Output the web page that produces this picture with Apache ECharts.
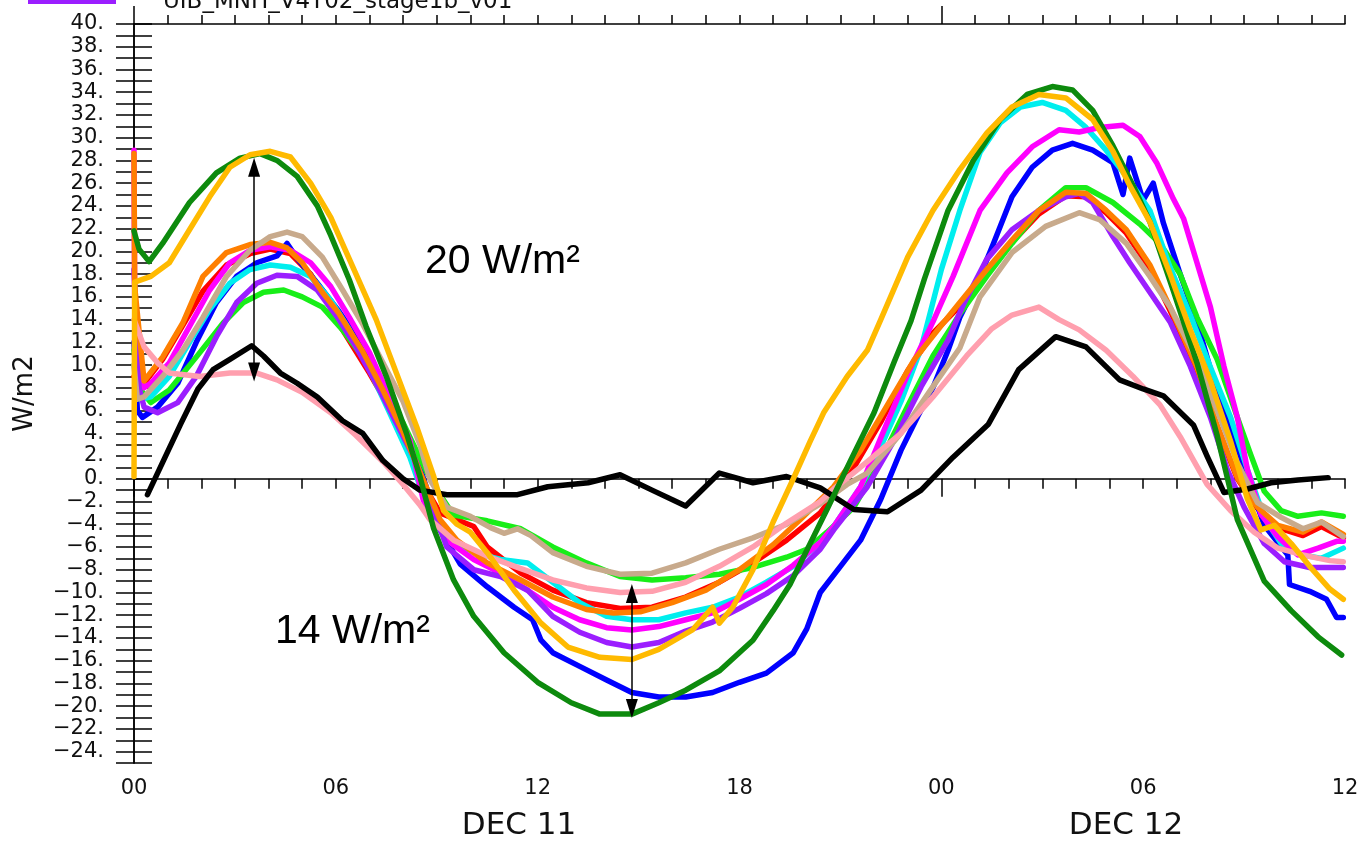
<!DOCTYPE html>
<html>
<head>
<meta charset="utf-8">
<script src="https://cdn.jsdelivr.net/npm/echarts@6/dist/echarts.min.js"></script>
<style>
  html, body { margin: 0; padding: 0; background: #fff; }
  #chart { width: 1365px; height: 844px; }
</style>
</head>
<body>
<div id="chart"></div>
<script>
// Net surface flux, W/m2, hours from 00 UTC DEC 11 (0..36)
const hourTicks = [0, 6, 12, 18, 24, 30, 36];
const hourLabels = ['00', '06', '12', '18', '00', '06', '12'];
const dayLabels = ['DEC 11', 'DEC 12'];
const legendName = 'UIB_MNH_V4T02_stage1b_v01';

const obsBlack = [[0.4,-1.4],[1.4,4.9],[1.9,7.9],[2.35,9.6],[2.85,10.5],[3.5,11.7],[3.85,10.8],[4.35,9.3],[4.85,8.4],[5.45,7.2],[6.2,5.1],[6.8,4.0],[7.4,1.6],[8.0,0.0],[8.5,-1.0],[9.3,-1.4],[11.4,-1.4],[12.3,-0.7],[13.5,-0.35],[14.45,0.35],[15.4,-1.0],[16.4,-2.4],[17.4,0.5],[18.4,-0.35],[19.4,0.2],[20.4,-0.8],[21.4,-2.7],[22.4,-2.9],[23.4,-1.0],[24.35,1.9],[25.4,4.8],[26.3,9.6],[27.4,12.5],[28.3,11.6],[29.3,8.7],[30.0,7.9],[30.6,7.3],[31.5,4.7],[31.9,2.0],[32.4,-1.2],[33.1,-0.9],[33.8,-0.35],[34.6,-0.1],[35.5,0.1]];

const runRed = [[0,9.0],[0.3,8.4],[0.85,10.5],[1.45,13.5],[2.05,16.5],[2.75,18.8],[3.45,19.8],[4.05,20.2],[4.65,19.8],[5.25,18.0],[5.85,15.0],[6.2,13.1],[7.0,9.3],[7.8,5.2],[8.4,0.5],[9.1,-3.0],[9.6,-3.6],[10.1,-4.2],[10.5,-6.0],[11.5,-8.3],[12.45,-9.8],[13.45,-10.9],[14.45,-11.4],[15.4,-11.3],[16.4,-10.4],[17.4,-9.1],[18.4,-7.4],[19.4,-5.4],[20.4,-3.0],[21.3,0.5],[22.2,5.0],[23.0,9.5],[23.75,12.8],[24.55,15.2],[25.35,18.2],[26.1,20.8],[26.9,23.3],[27.7,24.9],[28.3,24.8],[28.9,23.4],[29.5,21.6],[30.2,18.5],[30.8,14.8],[31.6,9.6],[32.2,4.5],[32.8,0.0],[33.4,-2.6],[34.0,-4.3],[34.75,-5.0],[35.3,-4.2],[35.95,-5.2]];

const runBlue = [[0,12.0],[0.1,6.0],[0.25,5.4],[0.7,6.3],[1.3,8.4],[1.85,12.0],[2.45,15.5],[3.05,17.8],[3.65,19.0],[4.25,19.6],[4.55,20.7],[4.85,19.4],[5.45,17.2],[6.05,14.9],[6.6,12.5],[7.2,9.3],[7.8,5.8],[8.4,1.9],[9.1,-4.5],[9.7,-7.5],[10.5,-9.5],[11.3,-11.3],[11.85,-12.4],[12.1,-14.2],[12.45,-15.3],[13.25,-16.5],[14.05,-17.7],[14.8,-18.8],[15.6,-19.2],[16.4,-19.2],[17.2,-18.8],[18.0,-17.9],[18.8,-17.1],[19.6,-15.3],[20.0,-13.2],[20.4,-10.0],[21.0,-7.7],[21.6,-5.4],[22.2,-1.8],[22.8,2.5],[23.3,5.5],[23.75,8.0],[24.2,11.3],[24.55,14.2],[25.15,17.8],[25.55,20.7],[26.1,24.8],[26.7,27.4],[27.3,28.9],[27.9,29.5],[28.5,28.9],[29.1,27.8],[29.4,25.0],[29.6,28.2],[30.0,24.5],[30.3,26.0],[30.6,22.5],[31.1,18.0],[31.6,13.8],[32.1,8.6],[32.6,4.0],[33.1,0.1],[33.6,-4.1],[34.3,-6.7],[34.35,-9.3],[34.95,-9.9],[35.45,-10.6],[35.75,-12.2],[35.95,-12.2]];

const runLime = [[0,11.3],[0.15,8.0],[0.5,6.7],[1.05,7.8],[1.85,10.7],[2.65,13.7],[3.25,15.5],[3.85,16.4],[4.45,16.6],[5.0,16.0],[5.6,15.1],[6.2,13.1],[6.8,10.7],[7.4,7.8],[8.0,4.9],[8.7,0.6],[9.1,-1.4],[9.5,-3.2],[10.5,-3.7],[11.5,-4.4],[12.45,-6.0],[13.45,-7.4],[14.45,-8.6],[15.4,-8.9],[16.4,-8.7],[17.4,-8.4],[18.4,-7.8],[19.4,-6.9],[20.0,-6.2],[20.6,-4.7],[21.4,-2.5],[22.2,1.6],[23.0,6.4],[23.75,10.8],[24.55,14.5],[25.35,17.8],[26.1,20.7],[26.9,23.6],[27.7,25.6],[28.3,25.6],[29.1,24.3],[29.9,22.4],[30.5,20.7],[31.1,18.0],[31.6,14.2],[32.2,10.5],[32.8,5.4],[33.2,2.1],[33.6,-1.1],[34.1,-2.8],[34.6,-3.3],[35.3,-3.0],[35.95,-3.3]];

const runCyan = [[0,10.0],[0.2,7.0],[0.5,7.2],[1.05,9.0],[1.65,12.0],[2.25,14.9],[2.85,17.2],[3.45,18.4],[4.05,18.8],[4.65,18.6],[5.25,17.8],[5.85,15.7],[6.4,13.1],[7.0,9.6],[7.6,5.8],[8.2,1.9],[8.6,-1.5],[9.3,-5.1],[10.1,-6.5],[10.9,-7.1],[11.7,-7.4],[12.45,-9.1],[13.25,-10.9],[14.05,-12.1],[14.8,-12.4],[15.6,-12.4],[16.4,-11.8],[17.2,-11.3],[18.0,-10.4],[18.8,-9.1],[19.6,-7.7],[20.4,-5.6],[20.8,-4.2],[21.6,-0.7],[22.2,2.8],[22.8,6.8],[23.4,11.5],[24.0,18.4],[24.55,23.6],[25.15,28.7],[25.75,31.3],[26.35,32.7],[27.0,33.1],[27.7,32.4],[28.3,30.9],[28.9,28.9],[29.5,26.6],[30.2,23.6],[30.8,18.6],[31.4,14.4],[32.0,9.8],[32.6,5.4],[33.1,0.8],[33.6,-3.4],[34.1,-5.7],[34.75,-6.7],[35.3,-7.0],[35.95,-6.1]];

const runMagenta = [[0,28.9],[0.02,15.0],[0.1,12.8],[0.3,8.0],[0.5,8.4],[1.05,10.2],[1.65,13.4],[2.25,16.6],[2.85,19.0],[3.45,20.1],[4.05,20.4],[4.65,20.1],[5.25,19.0],[5.85,16.9],[6.4,14.2],[7.0,11.1],[7.6,7.2],[8.2,3.4],[8.6,-1.9],[9.3,-5.4],[10.1,-7.1],[10.9,-8.3],[11.7,-9.8],[12.45,-11.3],[13.25,-12.4],[14.05,-13.1],[14.8,-13.3],[15.6,-13.0],[16.4,-12.4],[17.2,-11.8],[18.0,-10.6],[18.8,-9.3],[19.6,-7.6],[20.4,-5.6],[20.8,-4.2],[21.6,-0.7],[22.2,3.6],[23.0,9.2],[23.75,13.8],[24.35,17.8],[25.15,23.6],[25.95,26.9],[26.7,29.2],[27.5,30.7],[28.1,30.5],[28.7,30.9],[29.4,31.1],[29.9,30.1],[30.4,27.8],[30.9,24.6],[31.2,22.9],[31.6,19.0],[32.0,15.1],[32.4,9.9],[32.8,5.4],[33.1,0.8],[33.5,-3.1],[34.0,-5.1],[34.6,-6.7],[35.2,-6.1],[35.75,-5.5],[35.95,-5.5]];

const runPurple = [[0,18.4],[0.05,15.0],[0.15,8.0],[0.3,6.3],[0.7,5.8],[1.3,6.7],[1.85,9.0],[2.45,12.5],[3.05,15.5],[3.65,17.2],[4.25,17.9],[4.85,17.8],[5.45,16.6],[6.05,14.2],[6.6,11.6],[7.2,8.4],[7.8,4.9],[8.4,1.4],[8.8,-2.0],[9.3,-6.0],[10.1,-8.0],[10.9,-8.6],[11.7,-9.8],[12.45,-12.1],[13.25,-13.5],[14.05,-14.4],[14.8,-14.8],[15.6,-14.4],[16.4,-13.4],[17.2,-12.6],[18.0,-11.4],[18.8,-10.1],[19.6,-8.5],[20.4,-6.2],[20.8,-4.5],[21.8,-0.7],[22.6,3.4],[23.4,8.1],[24.2,12.2],[24.65,15.3],[25.35,19.3],[26.1,21.9],[26.9,23.6],[27.7,24.8],[28.1,25.1],[28.5,24.3],[29.1,21.3],[29.6,19.0],[30.2,16.4],[30.8,13.8],[31.4,9.9],[32.0,5.4],[32.5,0.8],[33.0,-2.5],[33.6,-5.7],[34.2,-7.3],[34.95,-7.8],[35.95,-7.8]];

const runOrange = [[0,28.6],[0.02,16.9],[0.3,8.6],[0.85,10.7],[1.45,13.7],[2.05,17.8],[2.75,19.9],[3.45,20.6],[4.05,20.8],[4.55,20.3],[5.0,19.0],[5.6,16.4],[6.1,14.5],[6.8,11.2],[7.4,7.8],[8.0,4.1],[8.6,-0.1],[9.1,-3.6],[9.6,-5.4],[10.5,-7.4],[11.5,-8.9],[12.45,-10.4],[13.45,-11.5],[14.25,-11.8],[15.05,-11.7],[16.0,-10.9],[17.0,-9.8],[18.0,-8.0],[19.0,-5.8],[19.8,-3.6],[20.8,-0.7],[21.6,2.5],[22.4,6.5],[23.2,10.5],[23.95,13.3],[24.55,15.5],[25.35,18.4],[26.1,21.0],[26.9,23.6],[27.7,25.2],[28.3,25.1],[28.9,23.6],[29.5,21.9],[30.2,18.8],[30.8,15.1],[31.6,9.8],[32.2,4.7],[32.8,0.1],[33.4,-2.5],[34.0,-4.1],[34.75,-4.7],[35.3,-3.8],[35.95,-4.9]];

const runTan = [[0,10.0],[0.1,7.0],[0.3,7.2],[0.85,9.0],[1.45,11.3],[2.05,14.2],[2.75,17.8],[3.45,20.1],[4.05,21.3],[4.55,21.7],[5.0,21.3],[5.6,19.5],[6.2,16.6],[6.8,13.6],[7.4,10.2],[8.0,6.8],[8.5,3.0],[8.8,-0.1],[9.3,-2.5],[10.0,-3.3],[10.6,-4.3],[11.0,-4.8],[11.4,-4.4],[11.8,-5.0],[12.45,-6.5],[13.45,-7.7],[14.45,-8.4],[15.4,-8.3],[16.4,-7.4],[17.4,-6.2],[18.4,-5.2],[19.4,-4.0],[20.4,-2.2],[21.2,-0.5],[21.8,0.5],[22.8,4.0],[23.75,8.1],[24.55,11.5],[25.15,16.0],[26.1,19.9],[27.1,22.2],[28.1,23.4],[28.7,22.8],[29.5,20.7],[30.2,17.8],[30.8,15.1],[31.6,10.5],[32.2,6.0],[32.8,1.4],[33.4,-2.1],[34.1,-3.4],[34.75,-4.4],[35.3,-3.8],[35.95,-5.1]];

const runPink = [[0,14.0],[0.3,11.6],[0.7,10.2],[1.05,9.3],[1.95,9.0],[2.85,9.3],[3.65,9.3],[4.25,8.7],[5.0,7.6],[5.85,5.8],[6.6,3.8],[7.4,1.5],[8.0,-0.5],[8.5,-2.3],[8.8,-3.6],[9.5,-5.4],[10.5,-6.8],[11.5,-7.9],[12.45,-8.9],[13.45,-9.6],[14.45,-10.0],[15.4,-9.9],[16.4,-9.1],[17.4,-7.7],[18.4,-6.0],[19.4,-3.9],[20.4,-2.0],[20.8,-0.9],[21.8,1.5],[22.8,4.0],[23.75,7.2],[24.75,10.8],[25.5,13.2],[26.1,14.4],[26.9,15.1],[27.5,14.0],[28.1,13.1],[28.9,11.3],[29.7,9.0],[30.5,6.5],[31.1,3.7],[31.9,-0.5],[32.6,-2.8],[33.3,-4.7],[34.0,-6.1],[34.75,-6.7],[35.55,-7.2],[35.95,-7.3]];

const runDarkGreen = [[0,21.8],[0.15,20.2],[0.45,19.1],[0.85,20.7],[1.65,24.3],[2.45,26.9],[3.15,28.2],[3.75,28.6],[4.25,28.0],[4.85,26.6],[5.45,24.0],[5.85,21.4],[6.4,17.5],[6.9,13.4],[7.5,9.0],[8.1,4.0],[8.5,0.2],[8.9,-4.3],[9.5,-8.9],[10.1,-12.1],[11.0,-15.3],[12.0,-17.9],[13.0,-19.7],[13.85,-20.7],[14.8,-20.7],[15.6,-19.7],[16.4,-18.6],[17.4,-16.9],[18.4,-14.2],[19.0,-11.6],[19.5,-9.3],[20.0,-6.3],[20.6,-2.7],[21.3,1.6],[22.0,5.8],[22.6,10.3],[23.1,13.9],[23.5,17.6],[24.2,23.6],[24.95,28.0],[25.75,31.6],[26.55,33.8],[27.3,34.5],[27.9,34.2],[28.5,32.4],[29.1,29.3],[29.7,25.8],[30.2,22.6],[30.9,16.5],[31.6,10.2],[32.2,3.8],[32.8,-3.6],[33.6,-9.0],[34.4,-11.6],[35.2,-13.9],[35.9,-15.5]];

const runAmber = [[0,0.2],[0.02,17.3],[0.5,17.8],[1.05,19.0],[1.65,21.9],[2.25,24.8],[2.85,27.4],[3.45,28.5],[4.05,28.8],[4.65,28.3],[5.25,26.0],[5.85,23.0],[6.6,18.0],[7.2,14.0],[7.8,9.3],[8.4,4.6],[8.9,0.3],[9.2,-2.8],[9.6,-4.0],[10.0,-4.7],[10.5,-6.5],[11.3,-9.8],[12.1,-12.7],[12.9,-14.8],[13.85,-15.7],[14.8,-15.9],[15.6,-15.0],[16.6,-13.3],[17.2,-11.3],[17.4,-12.7],[17.8,-11.3],[18.4,-8.0],[19.0,-3.8],[19.6,0.0],[20.1,3.3],[20.5,5.8],[21.2,9.0],[21.8,11.3],[22.2,14.0],[23.0,19.5],[23.75,23.6],[24.55,27.2],[25.35,30.4],[26.1,32.7],[26.9,33.8],[27.7,33.5],[28.5,31.6],[29.1,28.8],[29.6,25.8],[30.2,22.6],[30.8,18.0],[31.4,13.1],[32.0,8.6],[32.6,3.3],[33.1,-1.8],[33.5,-4.5],[33.9,-4.1],[34.4,-5.7],[34.95,-7.7],[35.55,-9.7],[35.95,-10.6]];

// Spread annotations: [hour, arrow tip low, arrow tip high] and their captions
const spreadDay = [3.57, 8.6, 28.2];
const spreadNight = [14.8, -21.0, -9.3];
const spreadTexts = ['20 W/m²', '14 W/m²'];
const arrowHead = 0.8; // arrowhead half-length, in W/m2

const runs = [
  { name: 'red', data: runRed, color: '#ff0000' },
  { name: 'blue', data: runBlue, color: '#0000ff' },
  { name: 'lime', data: runLime, color: '#18ee18' },
  { name: 'cyan', data: runCyan, color: '#00eeee' },
  { name: 'magenta', data: runMagenta, color: '#ff00ff' },
  { name: legendName, data: runPurple, color: '#9b1eff' },
  { name: 'orange', data: runOrange, color: '#ff7f00' },
  { name: 'tan', data: runTan, color: '#c8aa8c' },
  { name: 'pink', data: runPink, color: '#ff9fae' },
  { name: 'obs', data: obsBlack, color: '#000000' },
  { name: 'darkgreen', data: runDarkGreen, color: '#0d8a0d' },
  { name: 'amber', data: runAmber, color: '#ffba00' }
];

const FONT = 'DejaVu Sans';
const fmtY = v => (v < 0 ? '\u2212' + (-v) : String(v)) + '.';

const chart = echarts.init(document.getElementById('chart'), null, { renderer: 'canvas' });

const series = runs.map(r => ({
  name: r.name,
  type: 'line',
  data: r.data,
  showSymbol: false,
  symbol: 'none',
  silent: true,
  lineStyle: { color: r.color, width: 5.5, join: 'round', cap: 'round' },
  z: 3
}));

const arrowPair = s => [
  { coord: [s[0], s[1] + arrowHead] },
  { coord: [s[0], s[2] - arrowHead] }
];

series.push({
  type: 'line',
  data: [],
  silent: true,
  markLine: {
    silent: true,
    symbol: ['triangle', 'triangle'],
    symbolSize: [12, 19],
    label: { show: false },
    lineStyle: { color: '#000', width: 1.5, type: 'solid' },
    data: [arrowPair(spreadDay), arrowPair(spreadNight)],
    z: 10
  }
});

const axisLineStyle = { color: '#000', width: 1.5 };

const option = {
  animation: false,
  backgroundColor: '#fff',
  grid: { left: 134, right: 20, top: 24, bottom: 81, containLabel: false },
  xAxis: [
    {
      type: 'value', min: 0, max: 36, interval: 1, position: 'bottom',
      axisLine: { lineStyle: axisLineStyle },
      axisTick: { length: 10, lineStyle: axisLineStyle },
      axisLabel: {
        formatter: v => { const i = hourTicks.indexOf(Math.round(v)); return i >= 0 ? hourLabels[i] : ''; },
        margin: 15, fontSize: 21, fontFamily: FONT, color: '#111'
      },
      splitLine: { show: false }
    },
    {
      type: 'value', min: 0, max: 36, position: 'bottom',
      axisLine: { show: false },
      axisTick: { customValues: [0, 24], length: 18, lineStyle: axisLineStyle },
      axisLabel: { show: false },
      splitLine: { show: false }
    },
    {
      type: 'value', min: 0, max: 36, interval: 1, position: 'top',
      axisLine: { lineStyle: axisLineStyle },
      axisTick: { length: 9, lineStyle: axisLineStyle },
      axisLabel: { show: false },
      splitLine: { show: false }
    },
    {
      type: 'value', min: 0, max: 36, position: 'top',
      axisLine: { show: false },
      axisTick: { customValues: [0, 24], length: 18, lineStyle: axisLineStyle },
      axisLabel: { show: false },
      splitLine: { show: false }
    }
  ],
  yAxis: [
    {
      type: 'value', min: -25, max: 40, interval: 1, position: 'left',
      name: 'W/m2', nameLocation: 'middle', nameRotate: 90, nameGap: 96,
      nameTextStyle: { fontSize: 26, fontFamily: FONT, color: '#111' },
      axisLine: { lineStyle: axisLineStyle },
      axisTick: { length: 18, lineStyle: axisLineStyle },
      axisLabel: {
        formatter: v => (Math.round(v) % 2 === 0 ? fmtY(Math.round(v)) : ''),
        margin: 30, fontSize: 21, fontFamily: FONT, color: '#111'
      },
      splitLine: { show: false }
    },
    {
      type: 'value', min: -25, max: 40, interval: 1, position: 'right',
      axisLine: { lineStyle: axisLineStyle },
      axisTick: { length: 18, lineStyle: axisLineStyle },
      axisLabel: { show: false },
      splitLine: { show: false }
    }
  ],
  graphic: [
    { type: 'line', shape: { x1: 28, y1: 2, x2: 116, y2: 2 }, style: { stroke: '#9b1eff', lineWidth: 4 }, silent: true },
    { type: 'text', x: 163, y: -9, style: { text: legendName, font: '23px "DejaVu Sans"', fill: '#111', verticalAlign: 'top' }, silent: true },
    { type: 'text', x: 519, y: 826, style: { text: dayLabels[0], font: '31px "DejaVu Sans"', fill: '#111', align: 'center', verticalAlign: 'middle' }, silent: true },
    { type: 'text', x: 1126, y: 826, style: { text: dayLabels[1], font: '31px "DejaVu Sans"', fill: '#111', align: 'center', verticalAlign: 'middle' }, silent: true },
    { type: 'text', x: 425, y: 262, style: { text: spreadTexts[0], font: '41px "Liberation Sans"', fill: '#000', verticalAlign: 'middle' }, silent: true, z: 20 },
    { type: 'text', x: 275, y: 632, style: { text: spreadTexts[1], font: '41px "Liberation Sans"', fill: '#000', verticalAlign: 'middle' }, silent: true, z: 20 }
  ],
  series: series
};

chart.setOption(option);
</script>
</body>
</html>
